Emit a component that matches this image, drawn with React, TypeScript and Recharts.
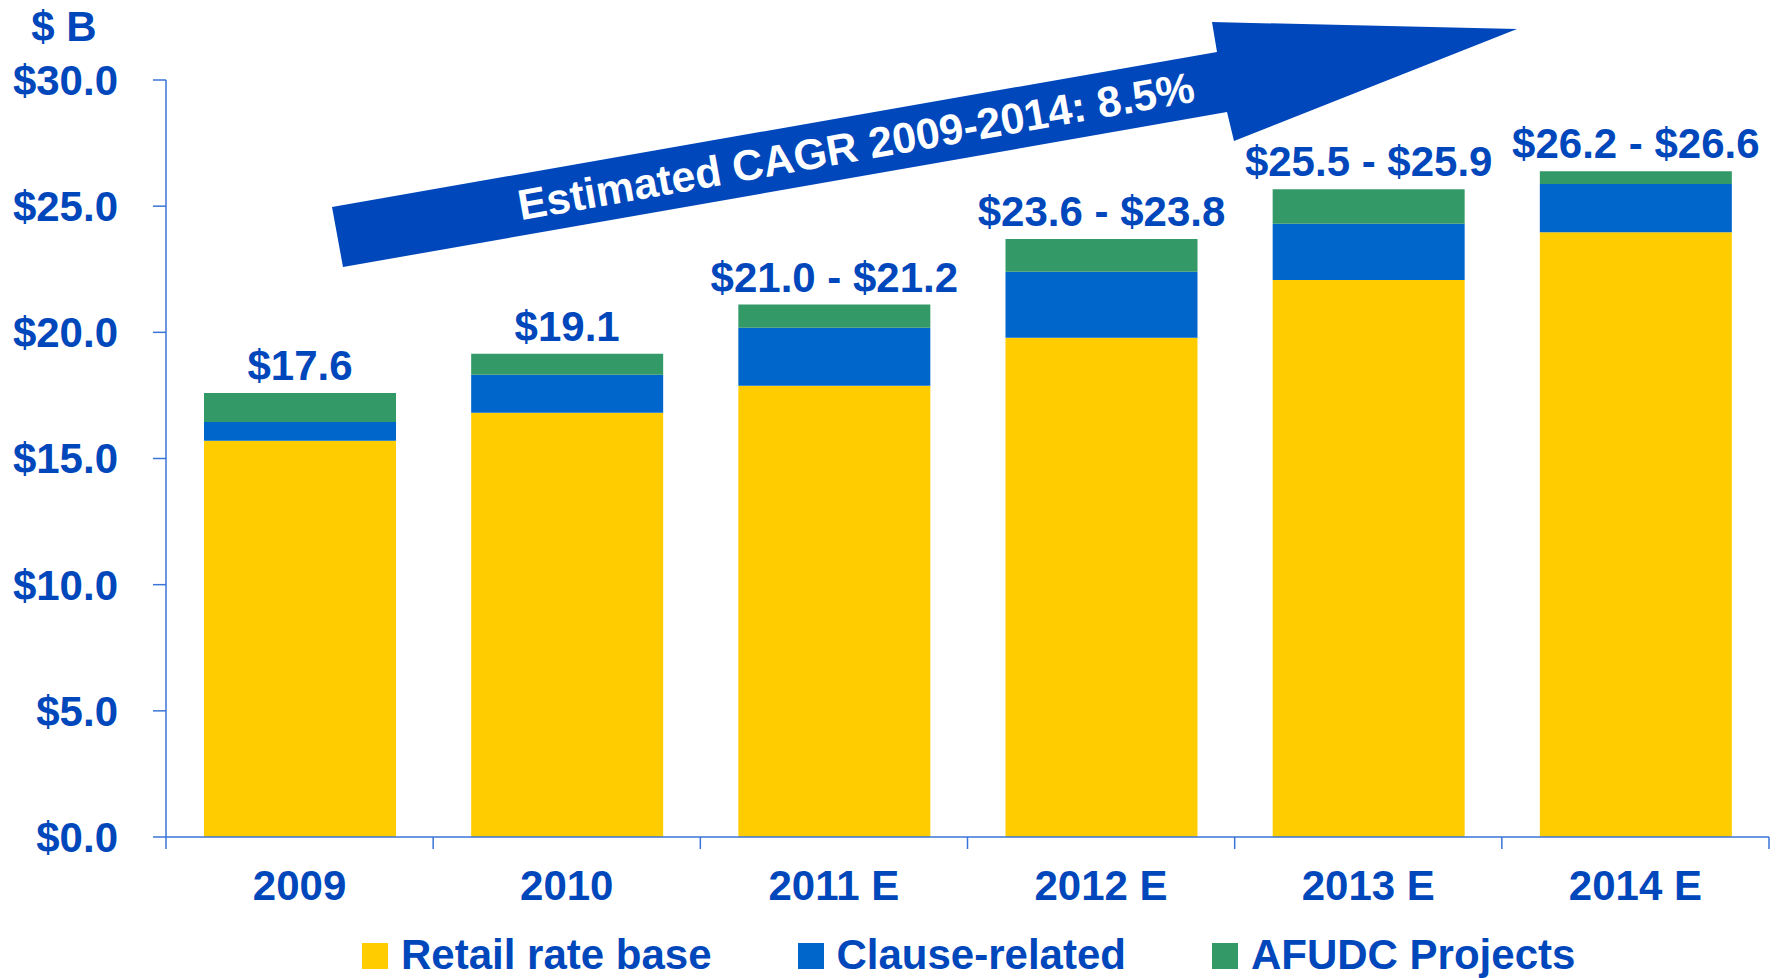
import React from "react";
import { BarChart, Bar, XAxis, YAxis, LabelList } from "recharts";

const categories = ["2009", "2010", "2011 E", "2012 E", "2013 E", "2014 E"];
const retailRateBase = [15.7, 16.81, 17.88, 19.79, 22.07, 23.97];
const clauseRelated = [0.75, 1.51, 2.3, 2.61, 2.23, 1.91];
const afudcProjects = [1.15, 0.83, 0.92, 1.3, 1.37, 0.5];
const totalLabels = ["$17.6", "$19.1", "$21.0 - $21.2", "$23.6 - $23.8", "$25.5 - $25.9", "$26.2 - $26.6"];
const yTicks = [0, 5, 10, 15, 20, 25, 30];
const seriesNames = ["Retail rate base", "Clause-related", "AFUDC Projects"];
const arrowText = "Estimated CAGR 2009-2014: 8.5%";
const unitLabel = "$ B";

const data = categories.map((c, i) => ({
  category: c,
  retail: retailRateBase[i],
  clause: clauseRelated[i],
  afudc: afudcProjects[i],
  label: totalLabels[i],
}));

const W = 1784;
const H = 978;
const FONT = '"Liberation Sans", Arial, Helvetica, sans-serif';
const TEXT = "#0047BB";
const AXIS = "#3A74D8";
const YELLOW = "#FFCC00";
const BLUE = "#0066CC";
const GREEN = "#339966";
const COLORS = [YELLOW, BLUE, GREEN];

const MARGIN = { top: 80, right: 15, left: 0, bottom: 81 };
const Y_WIDTH = 166;
const PLOT_W = W - MARGIN.left - MARGIN.right - Y_WIDTH;
const HALF_BAND = PLOT_W / categories.length / 2;
const X_TICK_SIZE = 12;
const X_TICK_MARGIN = 21;

const CategoryTick = (props: any) => {
  const { x, y, payload, index } = props;
  const axisY = y - X_TICK_MARGIN - X_TICK_SIZE;
  const isLast = index === categories.length - 1 || payload?.value === categories[categories.length - 1];
  return (
    <g>
      <line x1={x - HALF_BAND} x2={x - HALF_BAND} y1={axisY} y2={axisY + X_TICK_SIZE} stroke={AXIS} strokeWidth={1.5} />
      {isLast && (
        <line x1={x + HALF_BAND} x2={x + HALF_BAND} y1={axisY} y2={axisY + X_TICK_SIZE} stroke={AXIS} strokeWidth={1.5} />
      )}
      <text x={x} y={y} dy="0.71em" textAnchor="middle" fill={TEXT} fontSize={42} fontWeight={700} fontFamily={FONT}>
        {payload.value}
      </text>
    </g>
  );
};

const TotalLabel = (props: any) => {
  const { x, y, width, index } = props;
  return (
    <text x={x + width / 2} y={y - 13} textAnchor="middle" fill={TEXT} fontSize={42} fontWeight={700} fontFamily={FONT}>
      {totalLabels[index]}
    </text>
  );
};

export default function App() {
  return (
    <div style={{ position: "absolute", left: 0, top: 0, width: W, height: H, background: "#fff", fontFamily: FONT }}>
      <BarChart width={W} height={H} data={data} margin={MARGIN} barSize={192}>
        <YAxis
          type="number"
          domain={[0, 30]}
          ticks={yTicks}
          width={Y_WIDTH}
          tickFormatter={(v: number) => `$${v.toFixed(1)}`}
          tickSize={13}
          tickMargin={35}
          axisLine={{ stroke: AXIS, strokeWidth: 1.5 }}
          tickLine={{ stroke: AXIS, strokeWidth: 1.5 }}
          tick={{ fill: TEXT, fontSize: 42, fontWeight: 700, fontFamily: FONT }}
          interval={0}
        />
        <XAxis
          dataKey="category"
          height={60}
          tickLine={false}
          tickSize={X_TICK_SIZE}
          tickMargin={X_TICK_MARGIN}
          axisLine={{ stroke: AXIS, strokeWidth: 1.5 }}
          tick={<CategoryTick />}
          interval={0}
        />
        <Bar dataKey="retail" name={seriesNames[0]} stackId="a" fill={YELLOW} isAnimationActive={false} />
        <Bar dataKey="clause" name={seriesNames[1]} stackId="a" fill={BLUE} isAnimationActive={false} />
        <Bar dataKey="afudc" name={seriesNames[2]} stackId="a" fill={GREEN} isAnimationActive={false}>
          <LabelList dataKey="label" content={<TotalLabel />} />
        </Bar>
      </BarChart>

      <svg width={W} height={H} style={{ position: "absolute", left: 0, top: 0, pointerEvents: "none" }}>
        <text x={64} y={41} textAnchor="middle" fill={TEXT} fontSize={42} fontWeight={700} fontFamily={FONT}>
          {unitLabel}
        </text>
        <polygon
          points="332,207 1217,52 1212,22 1517,29 1234,141 1227,112 343,267"
          fill={TEXT}
        />
        <text
          x={856}
          y={146}
          dy="0.35em"
          textAnchor="middle"
          fill="#FFFFFF"
          fontSize={43}
          fontWeight={700}
          fontFamily={FONT}
          transform="rotate(-10 856 146)"
        >
          {arrowText}
        </text>
      </svg>

      <div style={{ position: "absolute", left: 362, top: 933.5, display: "flex", gap: 86 }}>
        {seriesNames.map((n, i) => (
          <div key={n} style={{ display: "flex", alignItems: "flex-start" }}>
            <div style={{ width: 26, height: 26, marginTop: 9.5, marginRight: 13, background: COLORS[i] }} />
            <span style={{ fontSize: 42, lineHeight: "42px", fontWeight: 700, color: TEXT, whiteSpace: "nowrap" }}>{n}</span>
          </div>
        ))}
      </div>
    </div>
  );
}
